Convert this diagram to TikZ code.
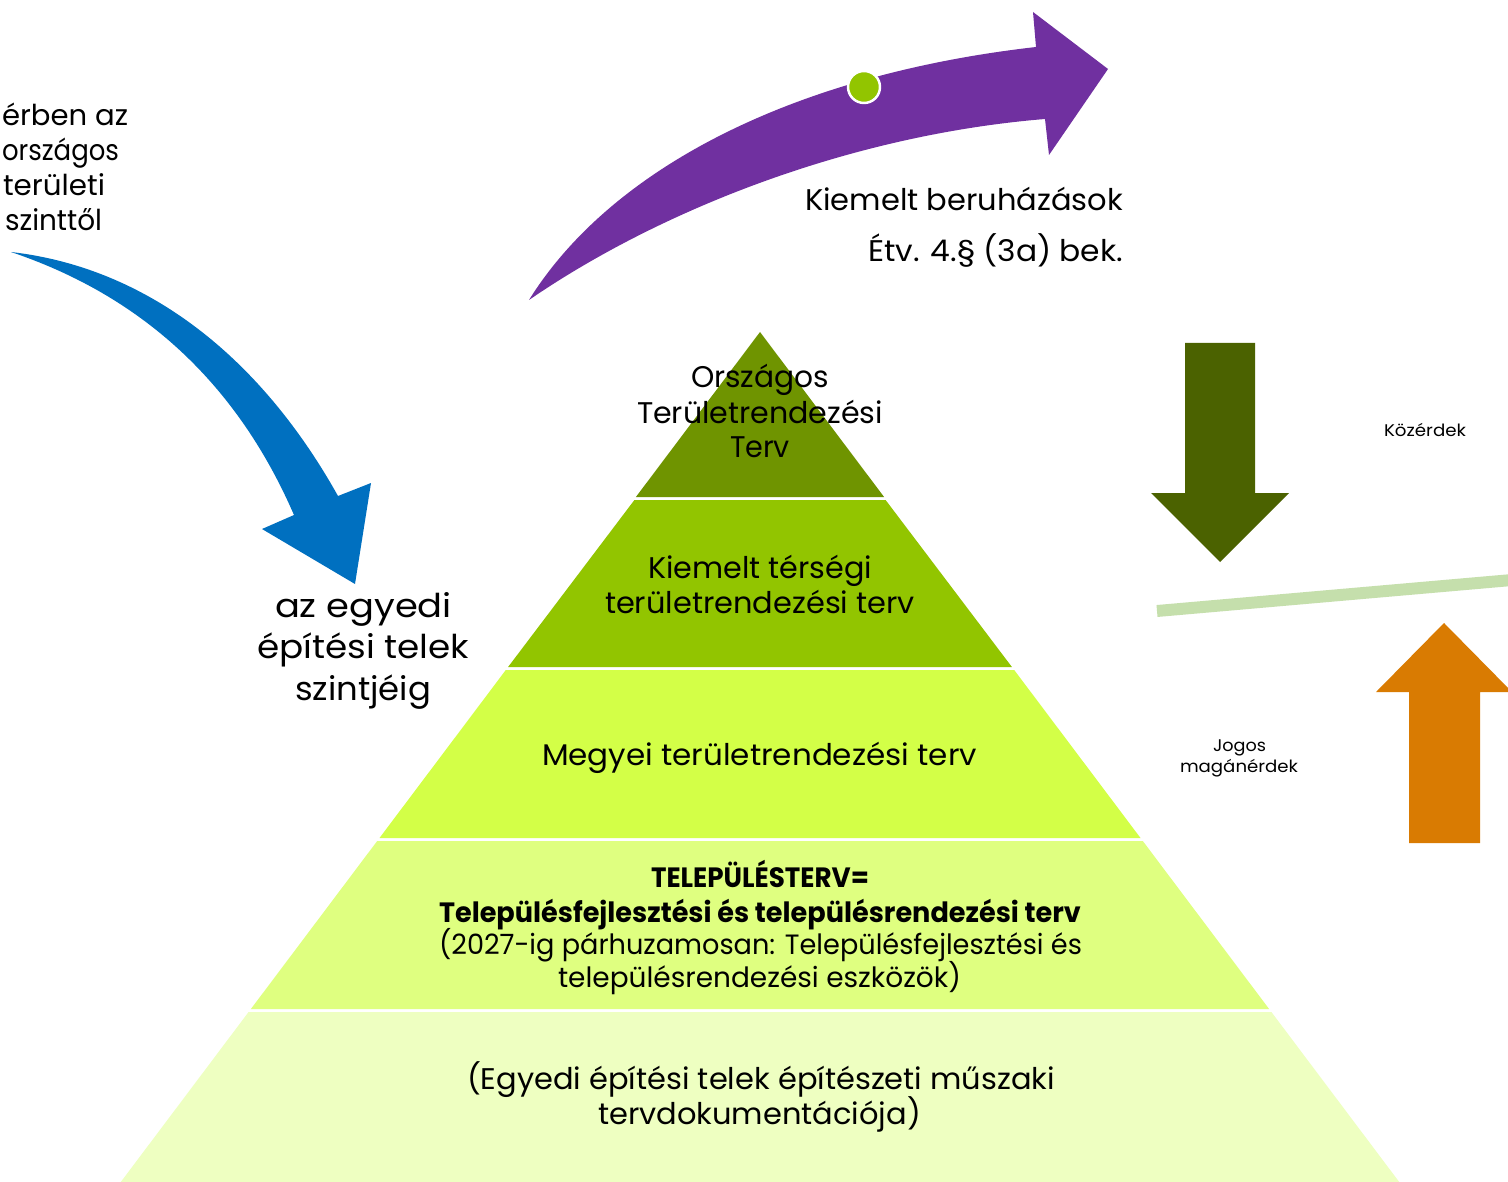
\documentclass[tikz,border=0pt]{standalone}
\usepackage{fontspec}
\setmainfont{Poppins}
\usepackage{graphicx}
\newdimen\pxu \pxu=0.56906pt
\newcommand\fitw[2]{\resizebox{#1\pxu}{\height}{#2}}
\definecolor{layA}{HTML}{6F9400}
\definecolor{layB}{HTML}{92C500}
\definecolor{layC}{HTML}{D3FF47}
\definecolor{layD}{HTML}{DFFF80}
\definecolor{layE}{HTML}{EEFFC1}
\definecolor{blueA}{HTML}{0070C0}
\definecolor{purpA}{HTML}{7030A0}
\definecolor{dgreen}{HTML}{4B6200}
\definecolor{orangeA}{HTML}{D97B02}
\definecolor{lline}{HTML}{C5DFAC}
\definecolor{dotg}{HTML}{92C500}
\tikzset{
  lbl/.style={inner sep=0pt, outer sep=0pt, text=black},
  fbig/.style={lbl, font=\fontsize{18.7pt}{22pt}\selectfont},
  fmid/.style={lbl, font=\fontsize{17pt}{20pt}\selectfont},
  fleft/.style={lbl, font=\fontsize{16.4pt}{19pt}\selectfont},
  fsett/.style={lbl, font=\fontsize{15.9pt}{19pt}\selectfont},
  fsmall/.style={lbl, font=\fontsize{9.6pt}{12pt}\selectfont},
}
\begin{document}
\begin{tikzpicture}[x=0.02cm,y=-0.02cm]
\useasboundingbox (0,0) rectangle (1508,1182);
\fill[white] (0,0) rectangle (1508,1182);
% pyramid layers
\fill[layA] (760,332) -- (884.1,497) -- (635.9,497) -- cycle;
\fill[layB] (634.4,500) -- (885.6,500) -- (1011.9,667) -- (508.1,667) -- cycle;
\fill[layC] (505.8,670) -- (1014.2,670) -- (1140.5,838) -- (379.5,838) -- cycle;
\fill[layD] (377.2,841) -- (1142.8,841) -- (1269.1,1009) -- (250.9,1009) -- cycle;
\fill[layE] (248.6,1012) -- (1271.4,1012) -- (1399.2,1182) -- (120.8,1182) -- cycle;
% blue curved arrow
\fill[blueA] (11,252) .. controls (150,268) and (262,360) .. (338,496) -- (371,483) -- (355,584) -- (262,529) -- (294,515) .. controls (232,372) and (130,292) .. (11,252) -- cycle;
% purple curved arrow
\fill[purpA] (529,300) .. controls (610,170) and (790,75) .. (1036,47) -- (1033,12) -- (1108,69) -- (1049,155) -- (1045,119) .. controls (850,135) and (660,210) .. (529,300) -- cycle;
\filldraw[draw=white, line width=1.4pt, fill=dotg] (864,87) circle (16);
% down arrow
\fill[dgreen] (1185,343) -- (1255,343) -- (1255,493) -- (1289,493) -- (1220,562) -- (1151,493) -- (1185,493) -- cycle;
% balance line
\draw[lline, line width=6.8pt] (1157,611) -- (1512,580);
% up arrow
\fill[orangeA] (1409,843) -- (1409,692) -- (1376,692) -- (1444,623) -- (1512,692) -- (1480,692) -- (1480,843) -- cycle;
% left top text
\node[fleft, anchor=base east] (la) at (128,126) {\fitw{126}{érben az}};
\node[fleft, anchor=base east] (lb) at (119,161) {\fitw{117}{országos}};
\node[fleft, anchor=base east] (lc) at (105,196) {\fitw{102}{területi}};
\node[fleft, anchor=base east] (ld) at (102,231) {\fitw{97}{szinttől}};
% az egyedi
\node[fbig, anchor=base] (ea) at (363.5,617) {\fitw{177}{az egyedi}};
\node[fbig, anchor=base] (eb) at (363,658) {\fitw{212}{építési telek}};
\node[fbig, anchor=base] (ec) at (363,700) {\fitw{136}{szintjéig}};
% kiemelt beruhazasok
\node[fmid, anchor=base east] (ka) at (1123,211) {\fitw{318}{Kiemelt beruházások}};
\node[fmid, anchor=base east] (kb) at (1123,262) {\fitw{255}{Étv. 4.§ (3a) bek.}};
% pyramid texts
\node[fmid, anchor=base] (pa) at (760,388) {\fitw{138}{Országos}};
\node[fmid, anchor=base] (pb) at (760,423) {\fitw{246}{Területrendezési}};
\node[fmid, anchor=base] (pc) at (760,458) {\fitw{60}{Terv}};
\node[fmid, anchor=base] (qa) at (760,578) {\fitw{224}{Kiemelt térségi}};
\node[fmid, anchor=base] (qb) at (760,613) {\fitw{310}{területrendezési terv}};
\node[fmid, anchor=base] (ra) at (759.5,765) {\fitw{435}{Megyei területrendezési terv}};
\node[fsett, anchor=base] (sa) at (760,887) {\fitw{218}{\bfseries TELEPÜLÉSTERV=}};
\node[fsett, anchor=base] (sb) at (760,922) {\fitw{642}{\bfseries Településfejlesztési és településrendezési terv}};
\node[fsett, anchor=base] (sc) at (760.5,954) {\fitw{643}{(2027-ig párhuzamosan: Településfejlesztési és}};
\node[fsett, anchor=base] (sd) at (759.5,987) {\fitw{403}{településrendezési eszközök)}};
\node[fmid, anchor=base] (ta) at (761,1089) {\fitw{588}{(Egyedi építési telek építészeti műszaki}};
\node[fmid, anchor=base] (tb) at (759.5,1124) {\fitw{323}{tervdokumentációja)}};
% side labels
\node[fsmall, anchor=base] (ua) at (1425,437) {\fitw{82}{Közérdek}};
\node[fsmall, anchor=base] (va) at (1239.5,751) {\fitw{53}{Jogos}};
\node[fsmall, anchor=base] (vb) at (1239,772) {\fitw{118}{magánérdek}};
\end{tikzpicture}
\end{document}
